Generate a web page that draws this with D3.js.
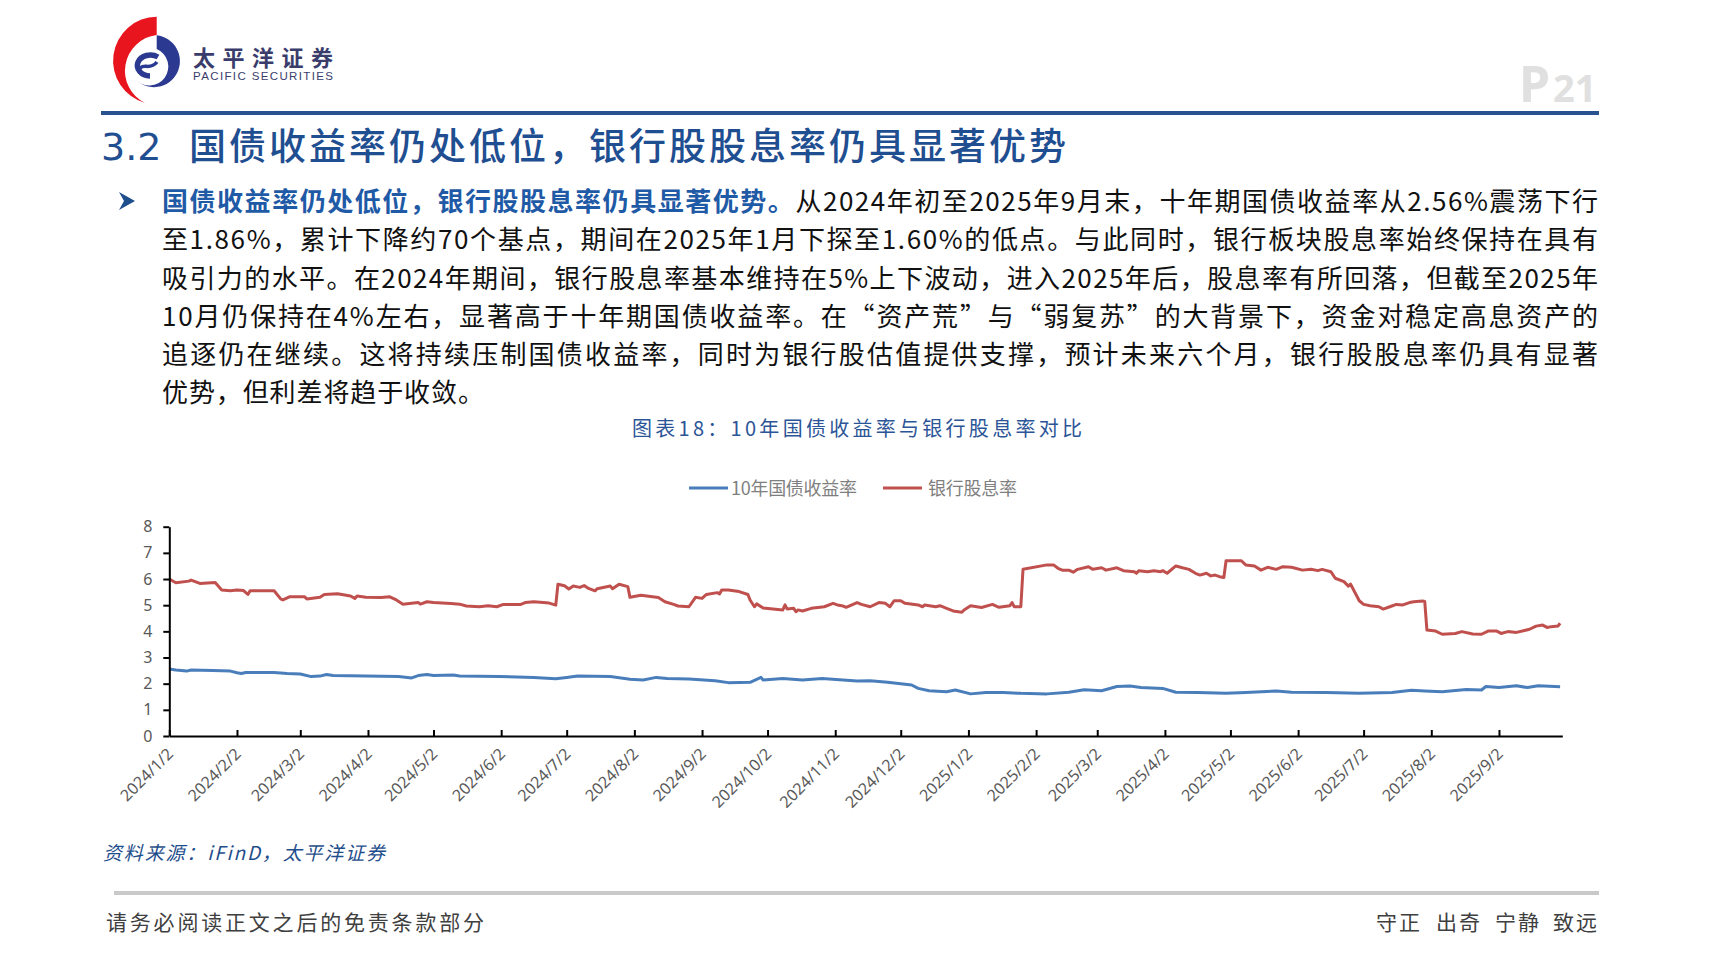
<!DOCTYPE html>
<html><head><meta charset="utf-8">
<script src="https://cdn.jsdelivr.net/npm/d3@7/dist/d3.min.js"></script>
<style>body{margin:0;background:#fff}svg{display:block}</style>
</head><body>
<svg id="c" width="1714" height="965"></svg>
<script>
// ---------------- data ----------------
const bondDates = ["2024-01-02","2024-01-05","2024-01-10","2024-01-12","2024-01-22","2024-01-30","2024-02-02","2024-02-04","2024-02-06","2024-02-19","2024-02-25","2024-03-02","2024-03-07","2024-03-11","2024-03-14","2024-03-17","2024-04-01","2024-04-16","2024-04-22","2024-04-25","2024-04-29","2024-05-02","2024-05-11","2024-05-14","2024-06-01","2024-06-17","2024-06-27","2024-07-02","2024-07-07","2024-07-22","2024-07-31","2024-08-06","2024-08-12","2024-08-17","2024-08-27","2024-09-08","2024-09-14","2024-09-24","2024-09-29","2024-09-30","2024-10-09","2024-10-18","2024-10-27","2024-11-12","2024-11-18","2024-11-26","2024-12-07","2024-12-10","2024-12-15","2024-12-23","2024-12-27","2025-01-03","2025-01-10","2025-01-18","2025-01-26","2025-02-07","2025-02-17","2025-02-24","2025-03-04","2025-03-11","2025-03-17","2025-03-22","2025-04-01","2025-04-07","2025-04-17","2025-04-30","2025-05-09","2025-05-23","2025-05-30","2025-06-15","2025-06-30","2025-07-15","2025-07-24","2025-07-30","2025-08-07","2025-08-18","2025-08-25","2025-08-27","2025-09-02","2025-09-10","2025-09-15","2025-09-20","2025-09-30"];
const bondValues = [2.56,2.52,2.48,2.52,2.50,2.48,2.42,2.39,2.43,2.43,2.39,2.37,2.27,2.29,2.35,2.31,2.29,2.27,2.22,2.31,2.35,2.31,2.33,2.29,2.27,2.24,2.19,2.24,2.29,2.27,2.17,2.14,2.24,2.20,2.18,2.11,2.04,2.05,2.24,2.14,2.20,2.14,2.20,2.10,2.11,2.05,1.95,1.82,1.73,1.69,1.76,1.61,1.66,1.66,1.63,1.61,1.67,1.77,1.73,1.89,1.91,1.85,1.82,1.67,1.66,1.63,1.66,1.72,1.67,1.66,1.63,1.66,1.75,1.72,1.69,1.78,1.76,1.89,1.85,1.92,1.85,1.92,1.88];

const divDates = ["2024-01-02","2024-01-05","2024-01-11","2024-01-12","2024-01-16","2024-01-23","2024-01-26","2024-01-30","2024-02-02","2024-02-05","2024-02-07","2024-02-08","2024-02-19","2024-02-22","2024-02-23","2024-02-26","2024-03-04","2024-03-05","2024-03-11","2024-03-13","2024-03-19","2024-03-25","2024-03-27","2024-03-28","2024-04-01","2024-04-08","2024-04-12","2024-04-15","2024-04-18","2024-04-25","2024-04-26","2024-04-29","2024-05-02","2024-05-10","2024-05-14","2024-05-17","2024-05-23","2024-05-27","2024-05-31","2024-06-03","2024-06-11","2024-06-13","2024-06-17","2024-06-24","2024-06-27","2024-06-28","2024-07-01","2024-07-03","2024-07-05","2024-07-08","2024-07-10","2024-07-12","2024-07-15","2024-07-16","2024-07-22","2024-07-23","2024-07-26","2024-07-30","2024-07-31","2024-08-05","2024-08-13","2024-08-16","2024-08-20","2024-08-22","2024-08-27","2024-08-30","2024-09-02","2024-09-04","2024-09-09","2024-09-10","2024-09-11","2024-09-14","2024-09-19","2024-09-23","2024-09-24","2024-09-26","2024-09-27","2024-09-30","2024-10-09","2024-10-10","2024-10-11","2024-10-14","2024-10-15","2024-10-16","2024-10-18","2024-10-22","2024-10-28","2024-11-01","2024-11-03","2024-11-05","2024-11-07","2024-11-12","2024-11-14","2024-11-18","2024-11-22","2024-11-25","2024-11-27","2024-11-29","2024-12-02","2024-12-04","2024-12-10","2024-12-12","2024-12-13","2024-12-18","2024-12-20","2024-12-23","2024-12-26","2024-12-30","2024-12-31","2025-01-03","2025-01-08","2025-01-13","2025-01-16","2025-01-21","2025-01-22","2025-01-23","2025-01-26","2025-01-27","2025-02-07","2025-02-10","2025-02-12","2025-02-14","2025-02-17","2025-02-19","2025-02-21","2025-02-26","2025-02-28","2025-03-04","2025-03-06","2025-03-11","2025-03-14","2025-03-19","2025-03-20","2025-03-21","2025-03-25","2025-03-28","2025-03-31","2025-04-01","2025-04-03","2025-04-07","2025-04-10","2025-04-13","2025-04-16","2025-04-18","2025-04-21","2025-04-23","2025-04-25","2025-04-27","2025-04-29","2025-04-30","2025-05-07","2025-05-09","2025-05-13","2025-05-16","2025-05-19","2025-05-23","2025-05-26","2025-05-30","2025-06-04","2025-06-08","2025-06-11","2025-06-13","2025-06-17","2025-06-19","2025-06-23","2025-06-25","2025-06-26","2025-06-30","2025-07-02","2025-07-05","2025-07-09","2025-07-11","2025-07-14","2025-07-17","2025-07-20","2025-07-23","2025-07-25","2025-07-29","2025-07-30","2025-07-31","2025-08-04","2025-08-07","2025-08-13","2025-08-16","2025-08-21","2025-08-25","2025-08-28","2025-09-01","2025-09-03","2025-09-06","2025-09-10","2025-09-16","2025-09-19","2025-09-22","2025-09-24","2025-09-26","2025-09-29","2025-09-30"];
const divValues = [6.00,5.86,5.92,5.96,5.83,5.87,5.58,5.55,5.58,5.56,5.41,5.55,5.55,5.24,5.20,5.32,5.32,5.24,5.30,5.41,5.44,5.35,5.26,5.35,5.30,5.29,5.32,5.20,5.04,5.10,5.04,5.13,5.10,5.06,5.04,4.97,4.94,4.98,4.94,5.03,5.03,5.10,5.13,5.08,5.00,5.80,5.74,5.62,5.73,5.68,5.75,5.64,5.55,5.63,5.73,5.63,5.80,5.71,5.30,5.38,5.29,5.13,5.03,4.97,4.94,5.30,5.26,5.41,5.48,5.43,5.58,5.58,5.52,5.41,5.20,4.94,5.05,4.89,4.82,5.01,4.85,4.88,4.75,4.82,4.78,4.88,4.94,5.07,5.01,4.98,4.92,5.10,5.03,4.94,5.10,5.07,4.94,5.17,5.17,5.07,5.01,4.94,5.01,4.94,4.98,4.88,4.78,4.73,4.82,4.98,4.91,5.03,4.92,4.98,5.10,4.94,4.94,6.37,6.54,6.54,6.41,6.34,6.34,6.26,6.37,6.47,6.37,6.43,6.34,6.43,6.32,6.28,6.22,6.32,6.28,6.32,6.28,6.32,6.22,6.50,6.43,6.37,6.22,6.15,6.22,6.12,6.15,6.09,6.06,6.70,6.70,6.54,6.50,6.34,6.45,6.37,6.47,6.45,6.34,6.37,6.32,6.37,6.28,6.03,5.90,5.73,5.81,5.17,5.03,4.98,4.94,4.85,4.94,5.03,5.01,5.10,5.13,5.16,5.14,4.05,4.01,3.89,3.92,3.99,3.90,3.89,4.01,4.01,3.92,3.99,3.96,4.08,4.20,4.24,4.15,4.18,4.20,4.31];

const seriesNames = ["10年国债收益率","银行股息率"];
const yTickValues = [0,1,2,3,4,5,6,7,8];
const xTickDates = ["2024-01-02","2024-02-02","2024-03-02","2024-04-02","2024-05-02","2024-06-02","2024-07-02","2024-08-02","2024-09-02","2024-10-02","2024-11-02","2024-12-02","2025-01-02","2025-02-02","2025-03-02","2025-04-02","2025-05-02","2025-06-02","2025-07-02","2025-08-02","2025-09-02"];

const titleText = "国债收益率仍处低位，银行股股息率仍具显著优势";
const bodyBold = "国债收益率仍处低位，银行股股息率仍具显著优势。";
const bodyLines = [
 "从2024年初至2025年9月末，十年期国债收益率从2.56%震荡下行",
 "至1.86%，累计下降约70个基点，期间在2025年1月下探至1.60%的低点。与此同时，银行板块股息率始终保持在具有",
 "吸引力的水平。在2024年期间，银行股息率基本维持在5%上下波动，进入2025年后，股息率有所回落，但截至2025年",
 "10月仍保持在4%左右，显著高于十年期国债收益率。在“资产荒”与“弱复苏”的大背景下，资金对稳定高息资产的",
 "追逐仍在继续。这将持续压制国债收益率，同时为银行股估值提供支撑，预计未来六个月，银行股股息率仍具有显著",
 "优势，但利差将趋于收敛。"
];
const captionText = "图表18：10年国债收益率与银行股息率对比";
const sourceText = "资料来源：iFinD，太平洋证券";
const footerLeft = "请务必阅读正文之后的免责条款部分";
const footerRight = ["守正","出奇","宁静","致远"];

// ---------------- drawing ----------------
const svg = d3.select("#c");
const CJK = "'Noto Sans CJK SC','Noto Sans',sans-serif";
const BLUE_T = "#1f4e91";
svg.append("rect").attr("width",1714).attr("height",965).attr("fill","#fff");

function fitWidth(sel, target){
  const n = sel.node();
  sel.attr("letter-spacing",0);
  const w = n.getComputedTextLength();
  const k = n.getNumberOfChars();
  sel.attr("letter-spacing", k>1 ? (target-w)/(k-1) : 0);
}

// logo
const logo = svg.append("g");
logo.append("path").attr("d","M156.7,16.7 L156.7,35 A36,36 0 0 0 145,103 A44,44 0 0 1 156.7,16.7 Z").attr("fill","#e8141e");
logo.append("path").attr("d","M156.7,35.3 A26,26 0 1 1 135,79 A19,19 0 1 0 156.7,49 Z").attr("fill","#2b3990");
logo.append("path").attr("d","M158,57 A13,10.5 0 1 0 150,76").attr("fill","none").attr("stroke","#2b3990").attr("stroke-width",5.5);
logo.append("path").attr("d","M139,70 C143,62 150,71 157,62").attr("fill","none").attr("stroke","#2b3990").attr("stroke-width",3.5);
const lt = logo.append("text").attr("x",193).attr("y",66).attr("font-family",CJK).attr("font-weight",700)
  .attr("font-size",22).attr("fill","#3a3d6c").text("太平洋证券");
fitWidth(lt,140);
const lt2 = logo.append("text").attr("x",193).attr("y",80).attr("font-family","'Liberation Sans',Arial,sans-serif")
  .attr("font-size",11.5).attr("fill","#3a3d6c").text("PACIFIC SECURITIES");
fitWidth(lt2,140);

// page number
svg.append("text").attr("x",1519).attr("y",102).attr("font-family","'Noto Sans',sans-serif").attr("font-weight",700)
  .attr("font-size",50).attr("fill","#e0e0e0").text("P");
svg.append("text").attr("x",1553).attr("y",102).attr("font-family","'Noto Sans',sans-serif").attr("font-weight",700)
  .attr("font-size",38).attr("fill","#e0e0e0").text("21");

// top rule
svg.append("line").attr("x1",101).attr("x2",1599).attr("y1",113).attr("y2",113).attr("stroke","#2b5290").attr("stroke-width",4);

// title
svg.append("text").attr("x",101).attr("y",160).attr("font-family","'DejaVu Sans',sans-serif").attr("font-size",38)
  .attr("fill",BLUE_T).text("3.2");
const tt = svg.append("text").attr("x",189).attr("y",160).attr("font-family",CJK).attr("font-weight",500)
  .attr("font-size",37).attr("fill",BLUE_T).text(titleText);
fitWidth(tt,877);

// bullet
svg.append("path").attr("d","M119,192 L135,201 L119,210 L124,201 Z").attr("fill","#1f4e8c");

// body
const bodyX = 162, bodyRight = 1598, baselines = [211,249,287.5,326,364,402];
bodyLines.forEach((ln,i)=>{
  const t = svg.append("text").attr("x",bodyX).attr("y",baselines[i]).attr("font-family",CJK)
    .attr("font-size",26).attr("fill","#111");
  if(i===0){
    t.append("tspan").attr("font-weight",700).attr("fill","#1f5aa6").text(bodyBold);
    t.append("tspan").text(ln);
  } else t.text(ln);
  if(i<bodyLines.length-1) fitWidth(t, bodyRight-bodyX);
  else t.attr("letter-spacing",0.9);
});

// caption
const cap = svg.append("text").attr("x",632).attr("y",436).attr("font-family",CJK).attr("font-size",20)
  .attr("fill","#2c5597").text(captionText);
fitWidth(cap,450);

// chart
const parse = d3.timeParse("%Y-%m-%d");
const x = d3.scaleTime().domain([parse("2024-01-02"),parse("2025-10-01")]).range([169.3,1562.3]);
const y = d3.scaleLinear().domain([0,8]).range([736,526.7]);
const bond = bondDates.map((d,i)=>({d:parse(d),v:bondValues[i]}));
const div = divDates.map((d,i)=>({d:parse(d),v:divValues[i]}));
const line = d3.line().x(p=>x(p.d)).y(p=>y(p.v));
const colors = ["#4a7ebb","#c0504d"];

svg.append("path").datum(bond).attr("d",line).attr("fill","none").attr("stroke",colors[0]).attr("stroke-width",3).attr("stroke-linejoin","round");
svg.append("path").datum(div).attr("d",line).attr("fill","none").attr("stroke",colors[1]).attr("stroke-width",3).attr("stroke-linejoin","round");

const yAxis = svg.append("g").attr("transform","translate(169.3,0)")
  .call(d3.axisLeft(y).tickValues(yTickValues).tickSizeInner(6).tickSizeOuter(0).tickPadding(11).tickFormat(d3.format("d")));
yAxis.select(".domain").attr("stroke","#000").attr("stroke-width",2);
yAxis.selectAll(".tick line").attr("stroke","#000").attr("stroke-width",2);
yAxis.selectAll("text").attr("font-family","'Noto Sans',sans-serif").attr("font-size",16).attr("fill","#595959");

const xAxis = svg.append("g").attr("transform","translate(0,736)")
  .call(d3.axisBottom(x).tickValues(xTickDates.map(parse)).tickSizeInner(-6).tickSizeOuter(0).tickFormat(d3.timeFormat("%Y/%-m/%-d")));
xAxis.select(".domain").attr("stroke","#000").attr("stroke-width",2);
xAxis.selectAll(".tick line").attr("stroke","#000").attr("stroke-width",2);
xAxis.selectAll("text").attr("y",0).attr("dy",0).attr("text-anchor","end")
  .attr("transform","translate(4.5,19) rotate(-45)")
  .attr("font-family","'Noto Sans',sans-serif").attr("font-size",16).attr("fill","#595959");
svg.selectAll(".domain").attr("fill","none");

// legend
const legX = [[689,728,731,126],[883,922,928,89]];
seriesNames.forEach((n,i)=>{
  svg.append("line").attr("x1",legX[i][0]).attr("x2",legX[i][1]).attr("y1",488).attr("y2",488)
    .attr("stroke",colors[i]).attr("stroke-width",3);
  const t = svg.append("text").attr("x",legX[i][2]).attr("y",494.5).attr("font-family",CJK).attr("font-size",18)
    .attr("fill","#7f7f7f").text(n);
  fitWidth(t,legX[i][3]);
});

// source
const src = svg.append("text").attr("x",103).attr("y",860).attr("font-family",CJK).attr("font-size",19)
  .attr("font-style","italic").attr("fill","#1f4e8c").text(sourceText);
fitWidth(src,282);

// footer
svg.append("line").attr("x1",114).attr("x2",1599).attr("y1",893).attr("y2",893).attr("stroke","#c9c9c9").attr("stroke-width",4);
const fl = svg.append("text").attr("x",106).attr("y",930).attr("font-family",CJK).attr("font-size",21)
  .attr("fill","#3f3f3f").text(footerLeft);
fitWidth(fl,378);
const frX = [1376,1436,1495,1553];
footerRight.forEach((s,i)=>{
  const t = svg.append("text").attr("x",frX[i]).attr("y",930).attr("font-family",CJK).attr("font-size",21)
    .attr("fill","#3f3f3f").text(s);
  fitWidth(t,44);
});
</script>
</body></html>
